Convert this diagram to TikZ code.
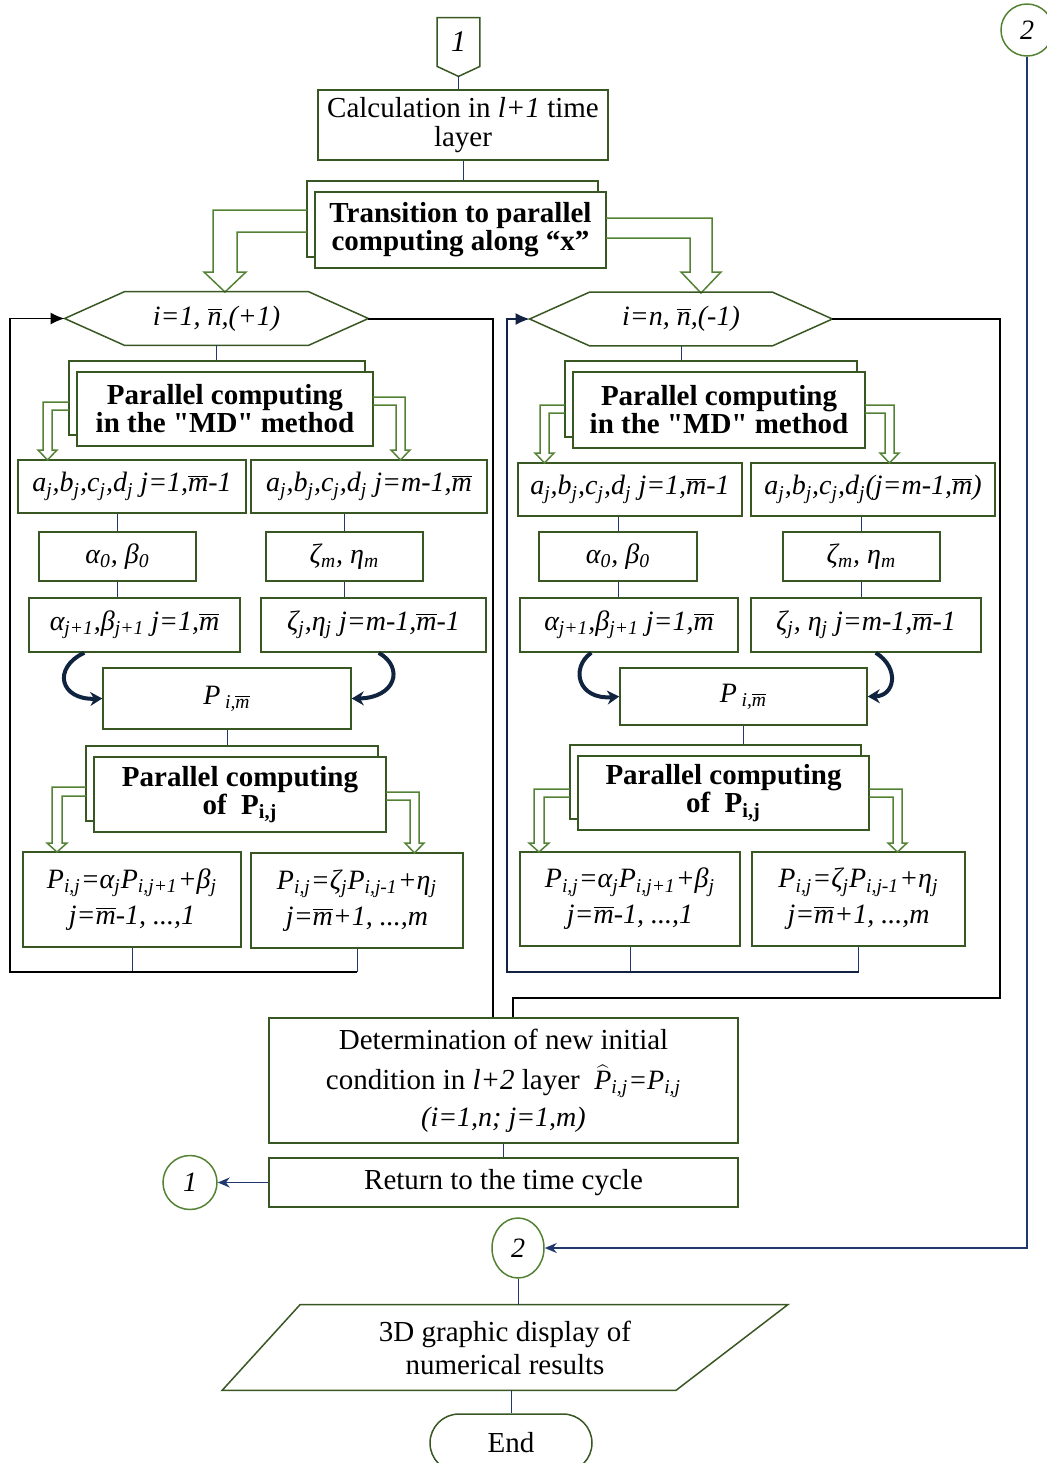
\documentclass[tikz,border=0pt]{standalone}
\usepackage{fontspec}
\setmainfont{Liberation Serif}[Ligatures=TeXOff]
\usetikzlibrary{calc,shadows,shapes.geometric,shapes.misc,arrows.meta}

\definecolor{boxgreen}{RGB}{56,87,35}
\definecolor{arrowgreen}{RGB}{84,130,53}
\definecolor{linkblue}{RGB}{32,56,110}
\definecolor{bendnavy}{RGB}{16,36,64}

\newcommand{\barit}[1]{$\overline{\mbox{#1}}$}
\newcommand{\lowit}[1]{\textsubscript{#1}}
\newcommand{\hatit}[1]{$\widehat{\mbox{#1}}$}

\tikzset{
  procbox/.style={draw=boxgreen, line width=0.75pt, fill=white, align=center, inner sep=1pt,
    font=\fontsize{14.5}{14.5}\selectfont},
  formbox/.style={procbox, font=\fontsize{14}{18}\selectfont\itshape},
  twinbox/.style={procbox, font=\fontsize{14.5}{14}\selectfont\bfseries,
    copy shadow={shadow xshift=-4pt, shadow yshift=5.5pt, draw=boxgreen, line width=0.75pt, fill=white}},
  hexlabel/.style={minimum height=26.5pt, inner sep=0pt, font=\fontsize{14}{16}\selectfont\itshape},
  hexline/.style={draw=boxgreen, line width=0.75pt},
  connector/.style={draw=arrowgreen, line width=0.75pt, inner sep=0pt, font=\fontsize{14}{16}\selectfont\itshape},
  link/.style={draw=linkblue, line width=0.5pt},
  loopline/.style={draw=black, line width=1pt},
  fatarrow/.style={draw=arrowgreen, line width=0.75pt},
  bendarrow/.style={draw=bendnavy, line width=2pt, -{Stealth[length=6pt, width=7pt]}},
}

\begin{document}
\begin{tikzpicture}[x=0.5pt, y=-0.5pt]
  \useasboundingbox (0,0) rectangle (1046,1463);

  % Entry of the time cycle
  \node[inner sep=0pt, minimum width=21pt, minimum height=24pt, font=\fontsize{15}{16}\selectfont\itshape] (conA) at (458.5,42) {1};
  \draw[hexline] (conA.north west) -- (conA.north east) -- (conA.south east) -- ([yshift=-5pt]conA.south) -- (conA.south west) -- cycle;
  \node[procbox, minimum width=145pt, minimum height=35pt] (calc) at (463,125) {Calculation in \textit{l+1} time\\layer};
  \node[twinbox, minimum width=145.5pt, minimum height=38pt] (trans) at (460.5,230) {Transition to parallel\\computing along “x”};
  \draw[link] ([yshift=-5pt]conA.south) -- (conA.south |- calc.north);
  \draw[link] (calc.south) -- ($(calc.south |- trans.north)+(0,-11)$);

  % Split into the two sweeps
  \draw[fatarrow] (307,210) -- (213,210) -- (213,272) -- (204,272) -- (225,292) -- (246,272) -- (237,272) -- (237,232) -- (307,232);
  \draw[fatarrow] (606,218) -- (712,218) -- (712,272) -- (721,272) -- (701,293) -- (681,272) -- (690,272) -- (690,238) -- (606,238);

  % Loop headers
  \node[hexlabel, minimum width=151.5pt] (hexA) at (216.5,318.5) {i=1, \barit{n},(+1)};
  \draw[hexline] (hexA.west) -- ($(hexA.north west)+(60,0)$) -- ($(hexA.north east)+(-60,0)$) -- (hexA.east)
    -- ($(hexA.south east)+(-60,0)$) -- ($(hexA.south west)+(60,0)$) -- cycle;
  \node[hexlabel, minimum width=151pt] (hexB) at (681,319) {i=n, \barit{n},(-1)};
  \draw[hexline] (hexB.west) -- ($(hexB.north west)+(60,0)$) -- ($(hexB.north east)+(-60,0)$) -- (hexB.east)
    -- ($(hexB.south east)+(-60,0)$) -- ($(hexB.south west)+(60,0)$) -- cycle;

  % Forward loop (i = 1 .. n)
  \node[twinbox, minimum width=148pt, minimum height=37pt] (mdA) at (225,409) {Parallel computing\\in the "MD" method};
  \node[formbox, minimum width=114pt, minimum height=26.5pt] (coefA1) at (132,486.5) {a\lowit{j},b\lowit{j},c\lowit{j},d\lowit{j} j=1,\barit{m}-1};
  \node[formbox, minimum width=118pt, minimum height=26.5pt] (coefA2) at (369,486.5) {a\lowit{j},b\lowit{j},c\lowit{j},d\lowit{j} j=m-1,\barit{m}};
  \node[formbox, minimum width=78.5pt, minimum height=24.5pt] (initA1) at (117.5,556.5) {α\lowit{0}, β\lowit{0}};
  \node[formbox, minimum width=78.5pt, minimum height=24.5pt] (initA2) at (344.5,556.5) {ζ\lowit{m}, η\lowit{m}};
  \node[formbox, minimum width=105.5pt, minimum height=27pt] (sweepA1) at (134.5,625) {α\lowit{j+1},β\lowit{j+1} j=1,\barit{m}};
  \node[formbox, minimum width=112.5pt, minimum height=27pt] (sweepA2) at (373.5,625) {ζ\lowit{j},η\lowit{j} j=m-1,\barit{m}-1};
  \node[formbox, minimum width=124pt, minimum height=30.5pt] (pmA) at (227,698.5) {P\,\lowit{i,\barit{m}}};
  \node[twinbox, minimum width=146pt, minimum height=37.5pt] (pijA) at (240,794.5) {Parallel computing\\of~~P\lowit{i,j}};
  \node[formbox, minimum width=109pt, minimum height=47.5pt] (solA1) at (132,899.5) {P\lowit{i,j}=α\lowit{j}P\lowit{i,j+1}+β\lowit{j}\\j=\barit{m}-1, ...,1};
  \node[formbox, minimum width=106pt, minimum height=47.5pt] (solA2) at (357,900.5) {P\lowit{i,j}=ζ\lowit{j}P\lowit{i,j-1}+η\lowit{j}\\j=\barit{m}+1, ...,m};

  \draw[link] (hexA.south) -- ($(hexA.south |- mdA.north)+(0,-11)$);
  \draw[link] (initA1.north) -- (initA1.north |- coefA1.south);
  \draw[link] (initA2.north) -- (initA2.north |- coefA2.south);
  \draw[link] (initA1.south) -- (initA1.south |- sweepA1.north);
  \draw[link] (initA2.south) -- (initA2.south |- sweepA2.north);
  \draw[link] (pmA.south) -- ($(pmA.south |- pijA.north)+(0,-11)$);
  \draw[fatarrow] (69,402) -- (43,402) -- (43,450) -- (38,450) -- (47.5,460) -- (57,450) -- (52,450) -- (52,410) -- (69,410);
  \draw[fatarrow] (373,397) -- (405,397) -- (405,450) -- (410,450) -- (400.5,460) -- (391,450) -- (396,450) -- (396,405) -- (373,405);
  \draw[fatarrow] (86,787) -- (52,787) -- (52,843) -- (47,843) -- (57,852) -- (67,843) -- (62,843) -- (62,796) -- (86,796);
  \draw[fatarrow] (386,792) -- (419,792) -- (419,843) -- (424,843) -- (414.5,853) -- (405,843) -- (410,843) -- (410,800) -- (386,800);
  \draw[bendarrow] ($(sweepA1.south west)+(56,0)$) .. controls (52,668) and (60,700) .. (pmA.west);
  \draw[bendarrow] ($(sweepA2.south east)+(-108,0)$) .. controls (405,668) and (395,698) .. (pmA.east);

  % Backward loop (i = n .. 1)
  \node[twinbox, minimum width=146pt, minimum height=38pt] (mdB) at (719,410) {Parallel computing\\in the "MD" method};
  \node[formbox, minimum width=112pt, minimum height=26.5pt] (coefB1) at (630,489.5) {a\lowit{j},b\lowit{j},c\lowit{j},d\lowit{j} j=1,\barit{m}-1};
  \node[formbox, minimum width=122pt, minimum height=26.5pt] (coefB2) at (873,489.5) {a\lowit{j},b\lowit{j},c\lowit{j},d\lowit{j}(j=m-1,\barit{m})};
  \node[formbox, minimum width=79pt, minimum height=24.5pt] (initB1) at (618,556.5) {α\lowit{0}, β\lowit{0}};
  \node[formbox, minimum width=78.5pt, minimum height=24.5pt] (initB2) at (861.5,556.5) {ζ\lowit{m}, η\lowit{m}};
  \node[formbox, minimum width=109pt, minimum height=27pt] (sweepB1) at (629,625) {α\lowit{j+1},β\lowit{j+1} j=1,\barit{m}};
  \node[formbox, minimum width=115pt, minimum height=27pt] (sweepB2) at (866,625) {ζ\lowit{j}, η\lowit{j} j=m-1,\barit{m}-1};
  \node[formbox, minimum width=123.5pt, minimum height=28.5pt] (pmB) at (743.5,696.5) {P\,\lowit{i,\barit{m}}};
  \node[twinbox, minimum width=145.5pt, minimum height=37pt] (pijB) at (723.5,793) {Parallel computing\\of~~P\lowit{i,j}};
  \node[formbox, minimum width=110pt, minimum height=47pt] (solB1) at (630,899) {P\lowit{i,j}=α\lowit{j}P\lowit{i,j+1}+β\lowit{j}\\j=\barit{m}-1, ...,1};
  \node[formbox, minimum width=106.5pt, minimum height=47pt] (solB2) at (858.5,899) {P\lowit{i,j}=ζ\lowit{j}P\lowit{i,j-1}+η\lowit{j}\\j=\barit{m}+1, ...,m};

  \draw[link] (hexB.south) -- ($(hexB.south |- mdB.north)+(0,-11)$);
  \draw[link] (initB1.north) -- (initB1.north |- coefB1.south);
  \draw[link] (initB2.north) -- (initB2.north |- coefB2.south);
  \draw[link] (initB1.south) -- (initB1.south |- sweepB1.north);
  \draw[link] (initB2.south) -- (initB2.south |- sweepB2.north);
  \draw[link] (pmB.south) -- ($(pmB.south |- pijB.north)+(0,-11)$);
  \draw[fatarrow] (565,405) -- (540,405) -- (540,453) -- (535,453) -- (544.5,463) -- (554,453) -- (549,453) -- (549,413) -- (565,413);
  \draw[fatarrow] (865,405) -- (894,405) -- (894,453) -- (899,453) -- (889.5,463) -- (880,453) -- (885,453) -- (885,413) -- (865,413);
  \draw[fatarrow] (570,789) -- (534,789) -- (534,843) -- (529,843) -- (539,852) -- (549,843) -- (544,843) -- (544,797) -- (570,797);
  \draw[fatarrow] (869,789) -- (902,789) -- (902,843) -- (907,843) -- (897.5,852) -- (888,843) -- (893,843) -- (893,797) -- (869,797);
  \draw[bendarrow] ($(sweepB1.south west)+(72,0)$) .. controls (570,668) and (578,700) .. (pmB.west);
  \draw[bendarrow] ($(sweepB2.south east)+(-106,0)$) .. controls (900,668) and (895,696) .. (pmB.east);

  % Closing of the time step
  \node[procbox, minimum width=234.5pt, minimum height=62.5pt, font=\fontsize{14.5}{18.5}\selectfont] (det) at (503.5,1080.5)
    {Determination of new initial\\[1.5pt]condition in \textit{l+2} layer~~{\fontsize{14}{18.5}\selectfont\itshape\hatit{P}\lowit{i,j}=P\lowit{i,j}}\\{\fontsize{14}{18.5}\selectfont\itshape(i=1,n; j=1,m)}};
  \node[procbox, minimum width=234.5pt, minimum height=24.5pt] (ret) at (503.5,1182.5) {Return to the time cycle};
  \node[connector, circle, minimum size=27pt] (circA) at (190,1182.5) {1};
  \node[connector, circle, minimum size=26pt] (circB) at (1027,30) {2};
  \node[connector, ellipse, minimum width=26pt, minimum height=30pt] (circC) at (518,1248) {2};
  \node[inner sep=0pt, minimum width=282.5pt, minimum height=42.5pt, align=center, font=\fontsize{14.5}{16.5}\selectfont] (disp) at (505,1347.5) {3D graphic display of\\numerical results};
  \draw[hexline] ($(disp.north west)+(78,0)$) -- (disp.north east) -- ($(disp.south east)+(-112,0)$) -- (disp.south west) -- cycle;
  \node[connector, draw=boxgreen, rounded rectangle, minimum width=81pt, minimum height=29pt, font=\fontsize{14.5}{15}\selectfont] (endN) at (511,1443) {End};

  % Loop returns and exits
  \coordinate (loopA) at (493,318.5);
  \coordinate (loopB) at (1000,319);
  \coordinate (joinB) at (513,998);
  \coordinate (backA) at (10,972);
  \coordinate (backB) at (507,972);
  \draw[loopline] (hexA.east) -- (loopA) -- (loopA |- det.north);
  \draw[loopline] (hexB.east) -- (loopB) -- (loopB |- joinB) -- (joinB) -- (joinB |- det.north);
  \draw[link] (solA1.south) -- (solA1.south |- backA);
  \draw[link] (solA2.south) -- (solA2.south |- backA);
  \draw[loopline, line width=0.8pt, -{Latex[length=7pt, width=6pt]}] (solA2.south |- backA) -- (backA) -- (backA |- hexA.west) -- (hexA.west);
  \draw[link] (solB1.south) -- (solB1.south |- backB);
  \draw[link] (solB2.south) -- (solB2.south |- backB);
  \draw[loopline, line width=0.8pt, draw=linkblue!60!black, -{Latex[length=7pt, width=6pt]}] (solB2.south |- backB) -- (backB) -- (backB |- hexB.west) -- (hexB.west);

  \draw[link] (det.south) -- (det.south |- ret.north);
  \draw[link, line width=0.8pt, -{Stealth[length=6pt, width=5pt]}] (ret.west) -- (circA.east);
  \draw[link, line width=0.8pt, -{Stealth[length=6pt, width=5pt]}] (circB.south) -- (circB.south |- circC.east) -- (circC.east);
  \draw[link] (circC.south) -- (circC.south |- disp.north);
  \draw[link] (endN.north |- disp.south) -- (endN.north);
\end{tikzpicture}
\end{document}
